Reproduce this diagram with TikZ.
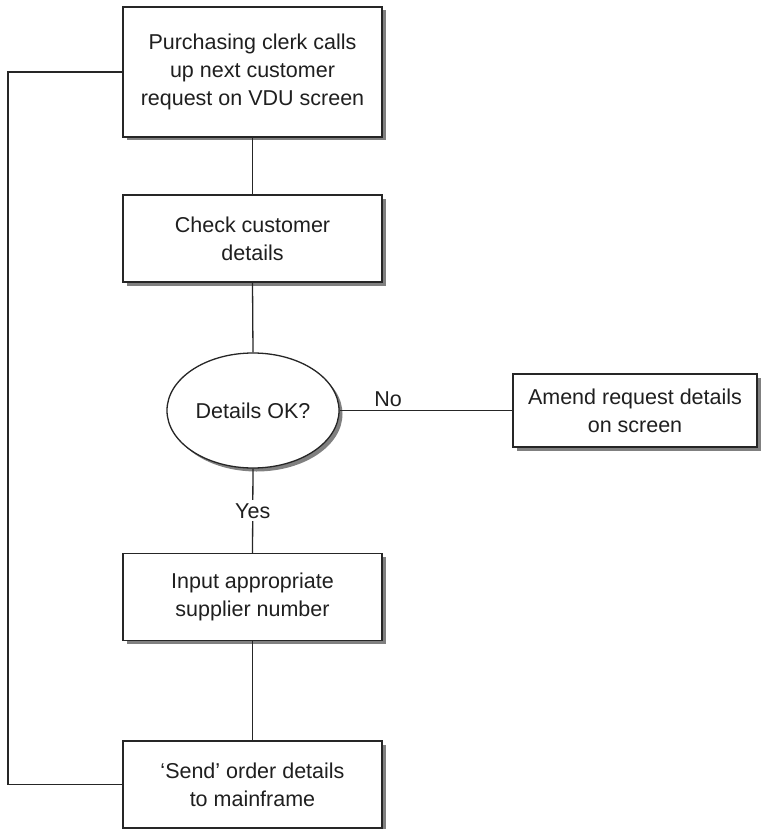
\documentclass[tikz,border=0pt]{standalone}
\usepackage{fontspec}
\setmainfont{Liberation Sans}
\usepackage{tikz}
\usetikzlibrary{shapes.geometric}
\usetikzlibrary{shadows}
\definecolor{inkgray}{HTML}{262626}
\tikzset{
  procbox/.style={draw=inkgray, line width=1.3pt, fill=white, align=center,
    minimum width=259pt, minimum height=87pt, inner sep=0pt,
    drop shadow={shadow xshift=3.5pt, shadow yshift=-3.5pt, fill=black!50, opacity=1}},
  testbox/.style={ellipse, draw=inkgray, line width=1.3pt, fill=white, align=center,
    minimum width=172pt, minimum height=115pt, inner sep=0pt,
    drop shadow={shadow xshift=3.5pt, shadow yshift=-3.5pt, fill=black!50, opacity=1}},
  link/.style={draw=inkgray, line width=1.3pt}
}
\newcommand{\procbox}[5]{\node[procbox, minimum height=#4] (#1) at (#2,#3) {#5};}

\begin{document}
\begin{tikzpicture}[x=1pt, y=-1pt, font=\fontsize{21.5}{28}\selectfont, text=black!88]
        \useasboundingbox (0,0) rectangle (768,829);
        % main column
        \procbox{call}{252.5}{72}{130pt}{Purchasing clerk calls\\up next customer\\request on VDU screen}
        \procbox{check}{252.5}{238.5}{87pt}{Check customer\\details}
        \node[testbox] (ok) at (253,410.5) {Details OK?};
        \procbox{input}{252.5}{597}{87pt}{Input appropriate\\supplier number}
        \procbox{send}{252.5}{784.5}{87pt}{`Send' order details\\to mainframe}
        % side branch
        \node[procbox, minimum width=244pt, minimum height=73pt] (amend) at (635,410.5) {Amend request details\\on screen};
        % connectors
        \draw[link] (call.south) -- (check.north);
        \draw[link] (check.south) -- (ok.north);
        \draw[link] (ok.east) -- node[pos=0.28, above=3pt, inner sep=0pt] (no) {No} (amend.west);
        \draw[link] (ok.south) -- node[fill=white, inner sep=3pt] (yes) {Yes} (input.north);
        \draw[link] (input.south) -- (send.north);
        % loop back to the top
        \coordinate (back) at (8,72);
        \draw[link] (send.west) -| (back) -- (call.west);
\end{tikzpicture}
\end{document}
